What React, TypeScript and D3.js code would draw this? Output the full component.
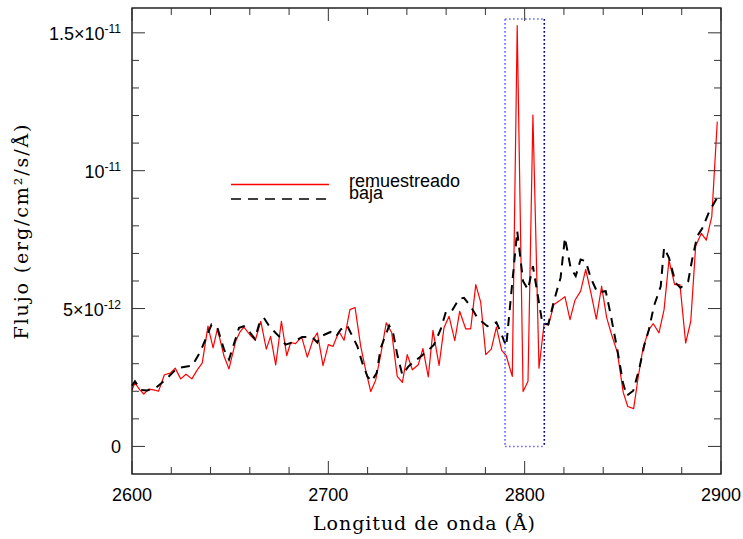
import React from "react";
import * as d3 from "d3";

// Resampled spectrum (wavelength in Å, flux in 1e-12 erg/cm²/s/Å)
const redWave = [
  2600.0, 2601.5, 2604.0, 2606.0, 2608.5, 2611.0, 2613.5, 2616.5, 2619.5, 2622.0,
  2624.8, 2627.5, 2630.5, 2633.0, 2635.8, 2638.7, 2641.3, 2643.5, 2646.9, 2649.4,
  2652.8, 2655.0, 2657.0, 2660.0, 2662.8, 2665.6, 2668.4, 2670.6, 2673.2, 2676.1,
  2678.8, 2680.8, 2683.3, 2686.4, 2689.3, 2692.2, 2694.4, 2697.3, 2700.0, 2702.4,
  2705.4, 2708.0, 2711.0, 2713.6, 2716.5, 2719.0, 2721.6, 2724.1, 2726.7, 2729.5,
  2732.3, 2735.1, 2737.7, 2740.2, 2742.8, 2745.8, 2748.2, 2750.9, 2753.3, 2756.4,
  2758.9, 2761.5, 2764.4, 2766.9, 2770.0, 2772.5, 2775.1, 2777.6, 2780.2, 2783.0,
  2785.6, 2788.3, 2790.6, 2793.7, 2796.2, 2799.2, 2801.7, 2804.2, 2807.3, 2809.9,
  2812.2, 2814.9, 2817.5, 2820.5, 2823.1, 2825.6, 2828.5, 2831.1, 2833.9, 2836.5,
  2839.2, 2841.8, 2844.3, 2847.2, 2850.2, 2852.5, 2855.5, 2857.8, 2860.3, 2863.3,
  2865.5, 2868.4, 2871.0, 2873.5, 2876.4, 2879.1, 2882.0, 2884.6, 2887.1, 2890.0,
  2892.5, 2895.3, 2898.1,
];
const redFlux = [
  2.05, 2.3, 2.05, 1.9, 2.08, 2.05, 2.0, 2.6, 2.66, 2.84,
  2.45, 2.62, 2.45, 2.75, 3.03, 4.36, 3.57, 4.26, 3.27, 2.81,
  3.81, 4.15, 4.33, 4.05, 3.85, 4.54, 3.53, 3.99, 2.96, 4.54,
  3.29, 3.77, 3.73, 3.97, 3.24, 3.87, 4.12, 2.93, 3.69, 3.63,
  4.17, 3.85, 4.96, 5.04, 3.63, 2.78, 1.99, 2.4, 3.33, 4.48,
  4.12, 2.54, 2.32, 3.33, 2.78, 2.96, 3.55, 2.52, 4.21, 2.94,
  4.3, 4.72, 3.84, 4.9, 4.26, 4.26, 5.87, 5.23, 3.33, 3.53,
  4.33, 3.48, 3.29, 2.54, 15.26, 1.99, 2.36, 12.02, 2.84, 4.45,
  4.42, 5.15, 5.27, 5.43, 4.6, 5.3, 5.63, 6.42, 5.51, 4.62,
  5.81, 4.66, 4.05, 3.41, 1.96, 1.45, 1.37, 2.5, 3.57, 4.24,
  4.45, 4.12, 4.96, 6.76, 5.87, 5.87, 3.75, 4.54, 7.27, 7.73,
  7.48, 8.33, 11.78,
];

// Low-resolution spectrum
const lowWave = [
  2600.0, 2601.5, 2604.5, 2607.8, 2612.0, 2617.1, 2623.0, 2630.7, 2634.9, 2640.5,
  2643.5, 2646.9, 2649.4, 2654.5, 2657.0, 2659.6, 2662.6, 2664.7, 2667.2, 2670.0,
  2675.7, 2678.2, 2681.6, 2686.7, 2691.8, 2694.4, 2696.0, 2701.1, 2704.0, 2706.3,
  2709.6, 2711.4, 2714.8, 2717.3, 2719.9, 2722.0, 2724.6, 2726.7, 2731.0, 2733.0,
  2735.1, 2737.7, 2740.8, 2743.6, 2746.2, 2751.3, 2753.8, 2757.2, 2759.7, 2762.3,
  2766.6, 2769.1, 2772.5, 2775.9, 2781.0, 2785.6, 2788.3, 2790.6, 2796.2, 2799.2,
  2801.7, 2804.2, 2809.0, 2812.0, 2814.9, 2818.3, 2820.5, 2823.4, 2826.0, 2828.5,
  2831.1, 2833.6, 2837.0, 2841.3, 2843.8, 2847.2, 2850.1, 2852.0, 2855.3, 2858.3,
  2861.0, 2863.3, 2865.8, 2869.3, 2871.0, 2873.5, 2876.9, 2879.4, 2883.3, 2885.3,
  2887.9, 2890.4, 2893.8, 2898.1,
];
const lowFlux = [
  2.2, 2.36, 2.05, 2.03, 2.12, 2.42, 2.84, 2.93, 3.45, 4.42,
  4.3, 3.51, 3.15, 4.3, 4.36, 4.17, 3.9, 4.42, 4.66, 4.35,
  3.93, 3.69, 3.77, 3.97, 3.96, 3.77, 3.99, 4.15, 3.99, 4.24,
  4.38, 4.12, 3.63, 3.03, 2.54, 2.36, 2.66, 3.57, 4.38, 4.12,
  3.33, 2.6, 2.9, 3.08, 3.21, 3.51, 3.69, 4.24, 4.84, 4.84,
  5.35, 5.39, 5.08, 4.66, 4.36, 4.5, 4.05, 3.63, 7.81, 5.99,
  5.69, 6.54, 4.48, 4.42, 5.27, 6.12, 7.57, 6.48, 6.18, 6.78,
  6.72, 6.12, 5.59, 5.63, 4.78, 3.51, 2.3, 1.84, 2.02, 2.8,
  3.69, 4.24, 5.08, 5.81, 7.21, 6.84, 5.93, 5.75, 5.99, 6.78,
  7.63, 7.9, 8.48, 9.03,
];

const xTicks = [2600, 2700, 2800, 2900];
const yTicks = [0, 5, 10, 15];
const yTickMant = ["0", "5×10", "10", "1.5×10"];
const yTickExp = ["", "-12", "-11", "-11"];
const legendLabels = ["remuestreado", "baja"];
const boxWave = [2790, 2810];
const boxFlux = [0, 15.5];

const W = 743;
const H = 539;
const L = 132, R = 721, T = 8, B = 474;

export default function App() {
  const x = d3.scaleLinear().domain([2600, 2900]).range([L, R]);
  const y = d3.scaleLinear().domain([-1, 15.9]).range([B, T]);

  const redPts = redWave.map((w, i) => [w, redFlux[i]] as [number, number]);
  const lowPts = lowWave.map((w, i) => [w, lowFlux[i]] as [number, number]);
  const line = d3
    .line<[number, number]>()
    .x((d) => x(d[0]))
    .y((d) => y(d[1]));

  const xMinor = d3.range(2600, 2901, 20).filter((v) => v % 100 !== 0);
  const yMinor = d3.range(0, 16, 1).filter((v) => v % 5 !== 0);
  const MAJ = 13, MIN = 7;

  const bx0 = x(boxWave[0]), bx1 = x(boxWave[1]);
  const by0 = y(boxFlux[0]), by1 = y(boxFlux[1]);

  const sans = "'Liberation Sans', Arial, Helvetica, sans-serif";
  const serif = "'DejaVu Serif', serif";

  return (
    <svg
      width={W}
      height={H}
      style={{ position: "fixed", left: 0, top: 0, background: "#fff" }}
    >
      <rect x={0} y={0} width={W} height={H} fill="#fff" />
      {/* data */}
      <path d={line(redPts) || ""} fill="none" stroke="#ff0000" strokeWidth={1.2} strokeLinejoin="round" />
      <path d={line(lowPts) || ""} fill="none" stroke="#000" strokeWidth={2} strokeDasharray="9,7" />

      {/* highlight box */}
      <g fill="none" strokeWidth={1.6} strokeDasharray="1.6,2.4">
        <line x1={bx0} y1={by1} x2={bx0} y2={by0} stroke="#6a6aff" />
        <line x1={bx0} y1={by1} x2={bx1} y2={by1} stroke="#6a6aff" />
        <line x1={bx0} y1={by0} x2={bx1} y2={by0} stroke="#6a6aff" />
        <line x1={bx1} y1={by1} x2={bx1} y2={by0} stroke="#000090" />
      </g>

      {/* frame */}
      <rect x={L} y={T} width={R - L} height={B - T} fill="none" stroke="#000" strokeWidth={1.3} />

      {/* x ticks */}
      {xTicks.map((t) => (
        <g key={"xM" + t}>
          <line x1={x(t)} x2={x(t)} y1={B} y2={B - MAJ} stroke="#333" />
          <line x1={x(t)} x2={x(t)} y1={T} y2={T + MAJ} stroke="#333" />
          <text x={x(t)} y={501} textAnchor="middle" fontFamily={sans} fontSize={18} fill="#000">
            {t}
          </text>
        </g>
      ))}
      {xMinor.map((t) => (
        <g key={"xm" + t}>
          <line x1={x(t)} x2={x(t)} y1={B} y2={B - MIN} stroke="#333" />
          <line x1={x(t)} x2={x(t)} y1={T} y2={T + MIN} stroke="#333" />
        </g>
      ))}

      {/* y ticks */}
      {yTicks.map((t, i) => (
        <g key={"yM" + t}>
          <line x1={L} x2={L + MAJ} y1={y(t)} y2={y(t)} stroke="#333" />
          <line x1={R} x2={R - MAJ} y1={y(t)} y2={y(t)} stroke="#333" />
          <text x={121} y={y(t) + 7} textAnchor="end" fontFamily={sans} fontSize={18} fill="#000">
            {yTickMant[i]}
            {yTickExp[i] ? (
              <tspan fontSize={12} dy={-7}>
                {yTickExp[i]}
              </tspan>
            ) : null}
          </text>
        </g>
      ))}
      {yMinor.map((t) => (
        <g key={"ym" + t}>
          <line x1={L} x2={L + MIN} y1={y(t)} y2={y(t)} stroke="#333" />
          <line x1={R} x2={R - MIN} y1={y(t)} y2={y(t)} stroke="#333" />
        </g>
      ))}

      {/* axis labels */}
      <text
        x={424}
        y={530}
        textAnchor="middle"
        fontFamily={serif}
        fontSize={19}
        textLength={222}
        lengthAdjust="spacing"
        fill="#000"
      >
        Longitud de onda (Å)
      </text>
      <text
        transform="translate(28,232) rotate(-90)"
        textAnchor="middle"
        fontFamily={serif}
        fontSize={19}
        textLength={215}
        lengthAdjust="spacing"
        fill="#000"
      >
        Flujo (erg/cm²/s/Å)
      </text>

      {/* legend */}
      <line x1={231} x2={329} y1={184.5} y2={184.5} stroke="#ff0000" strokeWidth={1.3} />
      <line x1={231} x2={329} y1={199} y2={199} stroke="#000" strokeWidth={1.6} strokeDasharray="10,7" />
      <text x={349} y={187} fontFamily={sans} fontSize={18} fill="#000">
        {legendLabels[0]}
      </text>
      <text x={349} y={199} fontFamily={sans} fontSize={18} fill="#000">
        {legendLabels[1]}
      </text>
    </svg>
  );
}
